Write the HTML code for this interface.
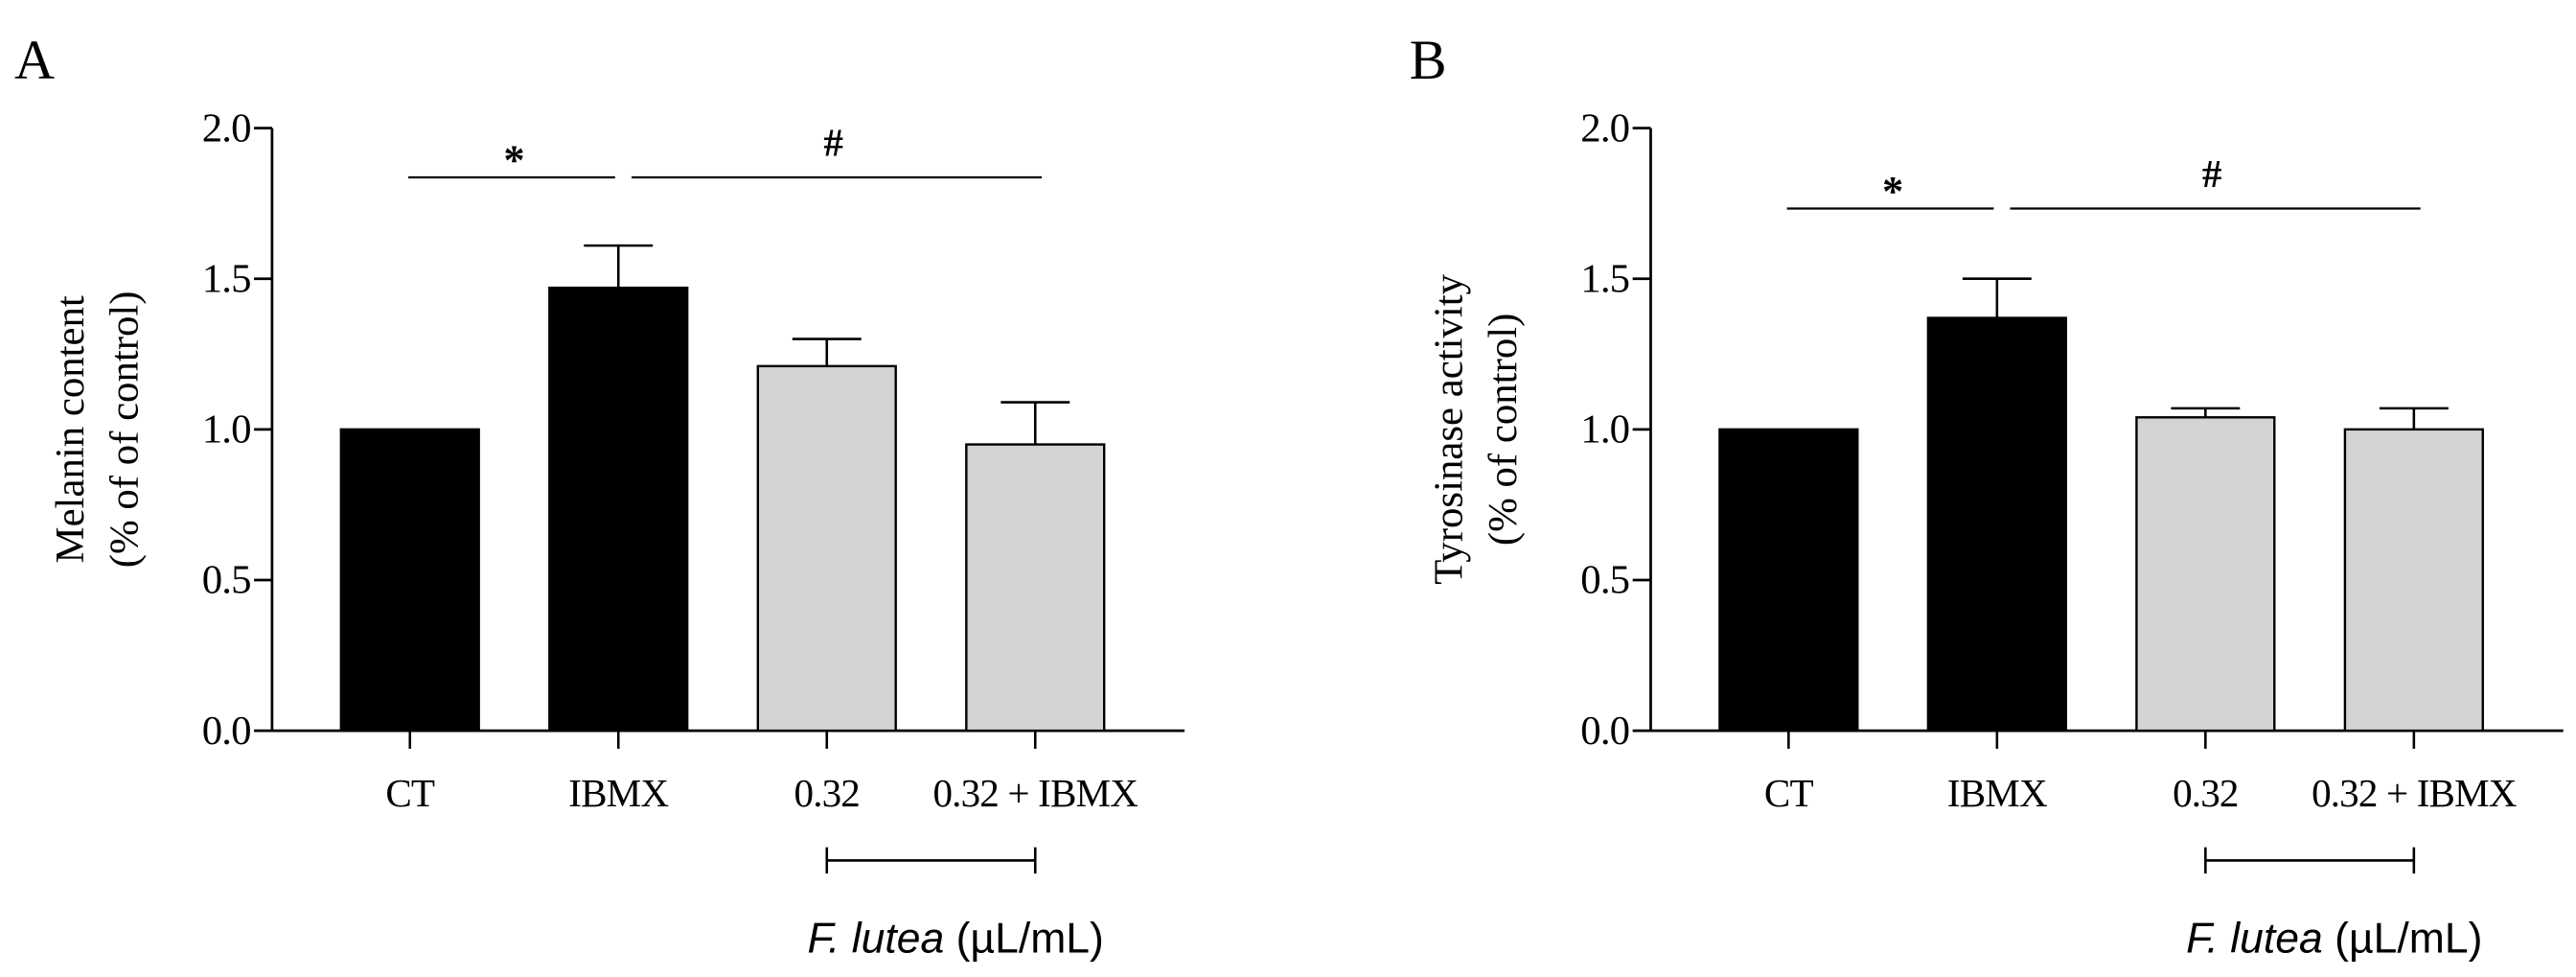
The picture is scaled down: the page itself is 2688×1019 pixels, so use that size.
<!DOCTYPE html>
<html><head><meta charset="utf-8"><style>
html,body{margin:0;padding:0;background:#fff;}
svg{display:block;}
</style></head><body>
<svg id="fig" width="2688" height="1019" viewBox="0 0 1568 595" xmlns="http://www.w3.org/2000/svg" font-family="Liberation Serif, serif"></svg>
<script>
const categories = ["CT","IBMX","0.32","0.32 + IBMX"];
const melaninValues = [1.0, 1.47, 1.21, 0.95];
const melaninErrors = [0, 0.14, 0.09, 0.14];
const tyrosinaseValues = [1.0, 1.37, 1.04, 1.0];
const tyrosinaseErrors = [0, 0.13, 0.03, 0.07];
const yTicks = [0.0, 0.5, 1.0, 1.5, 2.0];
const yTickLabels = ["0.0","0.5","1.0","1.5","2.0"];
const barFills = ["#000","#000","#d3d3d3","#d3d3d3"];

const NS="http://www.w3.org/2000/svg";
const svg=document.getElementById('fig');
function mk(tag,attrs,parent){const e=document.createElementNS(NS,tag);for(const k in attrs)e.setAttribute(k,attrs[k]);(parent||svg).appendChild(e);return e;}

function panel(cfg){
  const g=mk('g',{});
  
  
  const y0=445,yTop=78,ax=cfg.ax;
  const yS=v=>y0-(v/2)*(y0-yTop);
  const xC=i=>ax+84+i*127;
  const lbl=mk('text',{x:cfg.lx,y:48,'font-size':34},g);lbl.textContent=cfg.letter;
  
  
  const yAxis=mk('line',{x1:ax,y1:yTop,x2:ax,y2:y0,stroke:'#000','stroke-width':1.6},g);
  
  
  const xAxis=mk('line',{x1:ax,y1:y0,x2:ax+556,y2:y0,stroke:'#000','stroke-width':1.6},g);
  
  
  yTicks.forEach((t,i)=>{
    mk('line',{x1:ax-11,y1:yS(t),x2:ax,y2:yS(t),stroke:'#000','stroke-width':1.6},g);
    const tl=mk('text',{x:ax-13,y:yS(t)+8,'font-size':25,'text-anchor':'end','letter-spacing':-0.5},g);
    tl.textContent=yTickLabels[i];
    
    
  });
  const yt=mk('text',{transform:`translate(${cfg.yx},${(y0+yTop)/2}) rotate(-90)`,'font-size':25,'text-anchor':'middle'},g);
  yt.textContent=cfg.yl1;
  
  
  const yt2=mk('text',{transform:`translate(${cfg.yx+33},${(y0+yTop)/2}) rotate(-90)`,'font-size':25,'text-anchor':'middle'},g);
  yt2.textContent=cfg.yl2;
  
  
  categories.forEach((c,i)=>{
    const cx=xC(i),v=cfg.vals[i],e=cfg.errs[i];
    if(e>0){
      mk('line',{x1:cx,y1:yS(v),x2:cx,y2:yS(v+e),stroke:'#000','stroke-width':1.5},g);
      mk('line',{x1:cx-21,y1:yS(v+e),x2:cx+21,y2:yS(v+e),stroke:'#000','stroke-width':1.5},g);
    }
    const b=mk('rect',{x:cx-42,y:yS(v),width:84,height:y0-yS(v),fill:barFills[i],stroke:'#000','stroke-width':1.4},g);
    
    
    mk('line',{x1:cx,y1:y0,x2:cx,y2:y0+11,stroke:'#000','stroke-width':1.5},g);
    const cl=mk('text',{x:cx,y:491,'font-size':24,'text-anchor':'middle','letter-spacing':-0.5},g);
    cl.textContent=c;
    
    
  });
  mk('line',{x1:xC(0)-1,y1:cfg.sy,x2:xC(1)-2,y2:cfg.sy,stroke:'#000','stroke-width':1.3},g);
  mk('line',{x1:xC(1)+8,y1:cfg.sy,x2:xC(3)+4,y2:cfg.sy,stroke:'#000','stroke-width':1.3},g);
  const st=mk('text',{x:(xC(0)+xC(1))/2,y:cfg.sy-2,'font-size':26,'text-anchor':'middle','font-weight':'bold'},g);st.textContent='*';
  
  
  const hs=mk('text',{x:(xC(1)+xC(3))/2+4,y:cfg.sy-13,'font-size':24,'text-anchor':'middle','font-weight':'bold'},g);hs.textContent='#';
  
  
  mk('line',{x1:xC(2),y1:524,x2:xC(3),y2:524,stroke:'#000','stroke-width':1.5},g);
  mk('line',{x1:xC(2),y1:516,x2:xC(2),y2:532,stroke:'#000','stroke-width':1.5},g);
  mk('line',{x1:xC(3),y1:516,x2:xC(3),y2:532,stroke:'#000','stroke-width':1.5},g);
  const fl=mk('text',{x:(xC(2)+xC(3))/2+15,y:580,'font-size':26,'text-anchor':'middle','font-family':'Liberation Sans, sans-serif'},g);
  fl.innerHTML='<tspan font-style="italic">F. lutea</tspan> (µL/mL)';
  
  
}
panel({name:'panel-a-melanin',letter:'A',lx:8,ax:165,yx:50,yl1:'Melanin content',yl2:'(% of of control)',vals:melaninValues,errs:melaninErrors,sy:108});
panel({name:'panel-b-tyrosinase',letter:'B',lx:858,ax:1005,yx:890,yl1:'Tyrosinase activity',yl2:'(% of control)',vals:tyrosinaseValues,errs:tyrosinaseErrors,sy:127});
</script>
</body></html>
